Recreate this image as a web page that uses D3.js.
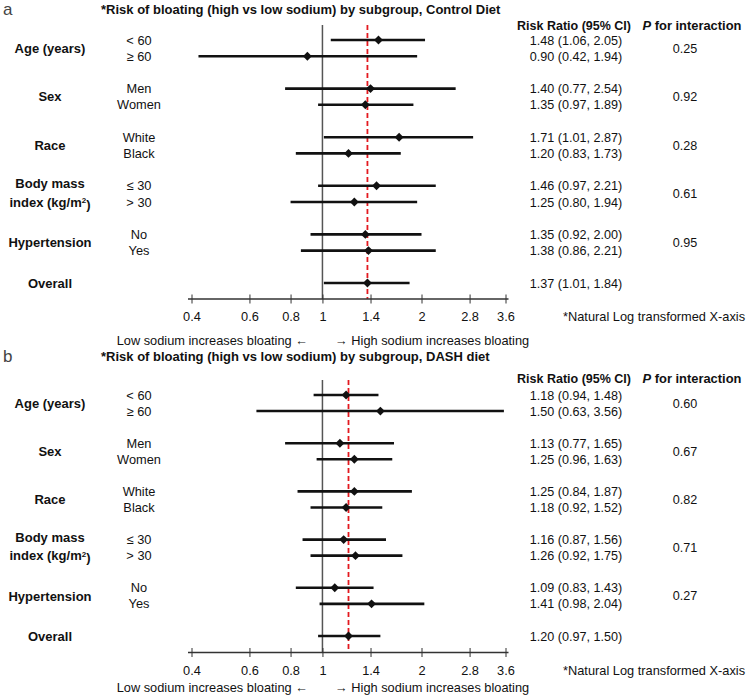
<!DOCTYPE html>
<html>
<head>
<meta charset="utf-8">
<script src="https://cdn.jsdelivr.net/npm/d3@7"></script>
<style>
  html, body { margin: 0; padding: 0; background: #fff; }
  svg { display: block; }
  text { font-family: "Liberation Sans", Arial, Helvetica, sans-serif; fill: #111; }
</style>
</head>
<body>
<svg id="chart" width="750" height="696"></svg>
<script>
// ---------------- DATA ----------------
const groupLabels = ["Age (years)", "Sex", "Race", "Body mass index (kg/m2)", "Hypertension", "Overall"];
const subgroupLabels = ["< 60", "\u2265 60", "Men", "Women", "White", "Black", "\u2264 30", "> 30", "No", "Yes", ""];
const rowGroup = [0, 0, 1, 1, 2, 2, 3, 3, 4, 4, 5];

const controlTitle = "*Risk of bloating (high vs low sodium) by subgroup, Control Diet";
const controlEst   = [1.48, 0.90, 1.40, 1.35, 1.71, 1.20, 1.46, 1.25, 1.35, 1.38, 1.37];
const controlLow   = [1.06, 0.42, 0.77, 0.97, 1.01, 0.83, 0.97, 0.80, 0.92, 0.86, 1.01];
const controlHigh  = [2.05, 1.94, 2.54, 1.89, 2.87, 1.73, 2.21, 1.94, 2.00, 2.21, 1.84];
const controlP     = ["0.25", "0.92", "0.28", "0.61", "0.95"];

const dashTitle = "*Risk of bloating (high vs low sodium) by subgroup, DASH diet";
const dashEst   = [1.18, 1.50, 1.13, 1.25, 1.25, 1.18, 1.16, 1.26, 1.09, 1.41, 1.20];
const dashLow   = [0.94, 0.63, 0.77, 0.96, 0.84, 0.92, 0.87, 0.92, 0.83, 0.98, 0.97];
const dashHigh  = [1.48, 3.56, 1.65, 1.63, 1.87, 1.52, 1.56, 1.75, 1.43, 2.04, 1.50];
const dashP     = ["0.60", "0.67", "0.82", "0.71", "0.27"];

const tickValues = [0.4, 0.6, 0.8, 1, 1.4, 2, 2.8, 3.6];
const tickLabels = ["0.4", "0.6", "0.8", "1", "1.4", "2", "2.8", "3.6"];

// ---------------- LAYOUT ----------------
const svg = d3.select("#chart");
const x = d3.scaleLog().domain([0.4, 3.6]).range([191.5, 505.5]);
const rowIndex = [0, 1, 3, 4, 6, 7, 9, 10, 12, 13, 15];

const panels = [
  { letter: "a", title: controlTitle, est: controlEst, lo: controlLow, hi: controlHigh, p: controlP,
    titleY: 9, headerY: 25, rowY0: 40, rowY1: 283, axisY: 299, tickY: 316, arrowY: 340, vTop: 25 },
  { letter: "b", title: dashTitle, est: dashEst, lo: dashLow, hi: dashHigh, p: dashP,
    titleY: 356, headerY: 378, rowY0: 395, rowY1: 636, axisY: 652.5, tickY: 670, arrowY: 687, vTop: 380 }
];

const fmt2 = d3.format(".2f");

panels.forEach(P => {
  const g = svg.append("g");
  const y = d3.scaleLinear().domain([0, 15]).range([P.rowY0, P.rowY1]);
  const rows = P.est.map((e, i) => ({ e, lo: P.lo[i], hi: P.hi[i], y: y(rowIndex[i]), sub: subgroupLabels[i], grp: rowGroup[i] }));

  // panel letter
  g.append("text").attr("x", 3).attr("y", P.titleY).attr("dy", "0.36em")
    .style("font-size", "17px").style("fill", "#444").text(P.letter);

  // title
  g.append("text").attr("x", 101).attr("y", P.titleY).attr("dy", "0.36em")
    .style("font-size", "13px").style("font-weight", "bold").text(P.title);

  // column headers
  g.append("text").attr("x", 574).attr("y", P.headerY).attr("dy", "0.36em").attr("text-anchor", "middle")
    .style("font-size", "12.5px").style("font-weight", "bold").text("Risk Ratio (95% CI)");
  const ph = g.append("text").attr("x", 692).attr("y", P.headerY).attr("dy", "0.36em").attr("text-anchor", "middle")
    .style("font-size", "12.9px").style("font-weight", "bold");
  ph.append("tspan").style("font-style", "italic").text("P");
  ph.append("tspan").text(" for interaction");

  // group labels
  groupLabels.forEach((lab, gi) => {
    const rs = rows.filter(r => r.grp === gi);
    const cy = d3.mean(rs, r => r.y);
    if (gi === 3) {
      g.append("text").attr("x", 50).attr("y", rs[0].y - 2).attr("dy", "0.36em").attr("text-anchor", "middle")
        .style("font-size", "13px").style("font-weight", "bold").text("Body mass");
      const t = g.append("text").attr("x", 50).attr("y", rs[1].y).attr("dy", "0.36em").attr("text-anchor", "middle")
        .style("font-size", "13px").style("font-weight", "bold");
      t.append("tspan").text("index (kg/m");
      t.append("tspan").attr("dy", "-0.4em").style("font-size", "8px").text("2");
      t.append("tspan").attr("dy", "0.4em").text(")");
    } else {
      g.append("text").attr("x", 50).attr("y", cy).attr("dy", "0.36em").attr("text-anchor", "middle")
        .style("font-size", "13px").style("font-weight", "bold").text(lab);
    }
  });

  // subgroup labels
  g.selectAll("text.sub").data(rows.filter(r => r.sub)).join("text").attr("class", "sub")
    .attr("x", 139).attr("y", d => d.y).attr("dy", "0.36em").attr("text-anchor", "middle")
    .style("font-size", "12.8px").text(d => d.sub);

  // RR column
  g.selectAll("text.rr").data(rows).join("text").attr("class", "rr")
    .attr("x", 576).attr("y", d => d.y).attr("dy", "0.36em").attr("text-anchor", "middle")
    .style("font-size", "12.6px")
    .text(d => `${fmt2(d.e)} (${fmt2(d.lo)}, ${fmt2(d.hi)})`);

  // P values
  P.p.forEach((pv, gi) => {
    const rs = rows.filter(r => r.grp === gi);
    g.append("text").attr("x", 685).attr("y", d3.mean(rs, r => r.y)).attr("dy", "0.36em").attr("text-anchor", "middle")
      .style("font-size", "12.6px").text(pv);
  });

  // reference vertical line at 1
  g.append("line").attr("x1", x(1)).attr("x2", x(1)).attr("y1", P.vTop).attr("y2", P.axisY)
    .attr("stroke", "#555").attr("stroke-width", 1.5);

  // overall dashed line
  const overall = rows[rows.length - 1].e;
  g.append("line").attr("x1", x(overall)).attr("x2", x(overall)).attr("y1", P.vTop).attr("y2", P.axisY)
    .attr("stroke", "#e3191f").attr("stroke-width", 1.8).attr("stroke-dasharray", "5,3");

  // CI lines
  g.selectAll("line.ci").data(rows).join("line").attr("class", "ci")
    .attr("x1", d => x(d.lo)).attr("x2", d => x(d.hi)).attr("y1", d => d.y).attr("y2", d => d.y)
    .attr("stroke", "#111").attr("stroke-width", 2.6);

  // diamonds
  g.selectAll("path.pt").data(rows).join("path").attr("class", "pt")
    .attr("d", d3.symbol(d3.symbolDiamond2, 50))
    .attr("transform", d => `translate(${x(d.e)},${d.y})`)
    .attr("fill", "#111");

  // axis
  const axis = d3.axisBottom(x).tickValues(tickValues)
    .tickFormat((d, i) => tickLabels[i]).tickSize(5).tickSizeOuter(0);
  const ag = g.append("g").attr("transform", `translate(0,${P.axisY})`).call(axis);
  ag.select(".domain").attr("d", `M${x(0.4) - 3.5},0H${x(3.6) + 3}`).attr("stroke", "#333").attr("stroke-width", 1.5);
  ag.selectAll(".tick line").attr("y1", -4.5).attr("y2", 4.5).attr("stroke", "#333").attr("stroke-width", 1);
  ag.selectAll(".tick text").attr("y", P.tickY - P.axisY).attr("dy", "0.36em")
    .style("font-size", "12.8px").style("font-family", "'Liberation Sans', Arial, sans-serif").attr("fill", "#111");

  // arrow labels
  g.append("text").attr("x", 308).attr("y", P.arrowY).attr("dy", "0.36em").attr("text-anchor", "end")
    .style("font-size", "12.8px").text("Low sodium increases bloating \u2190");
  g.append("text").attr("x", 335).attr("y", P.arrowY).attr("dy", "0.36em")
    .style("font-size", "12.8px").text("\u2192 High sodium increases bloating");

  // note
  g.append("text").attr("x", 563).attr("y", P.tickY).attr("dy", "0.36em")
    .style("font-size", "12.8px").text("*Natural Log transformed X-axis");
});
</script>
</body>
</html>
